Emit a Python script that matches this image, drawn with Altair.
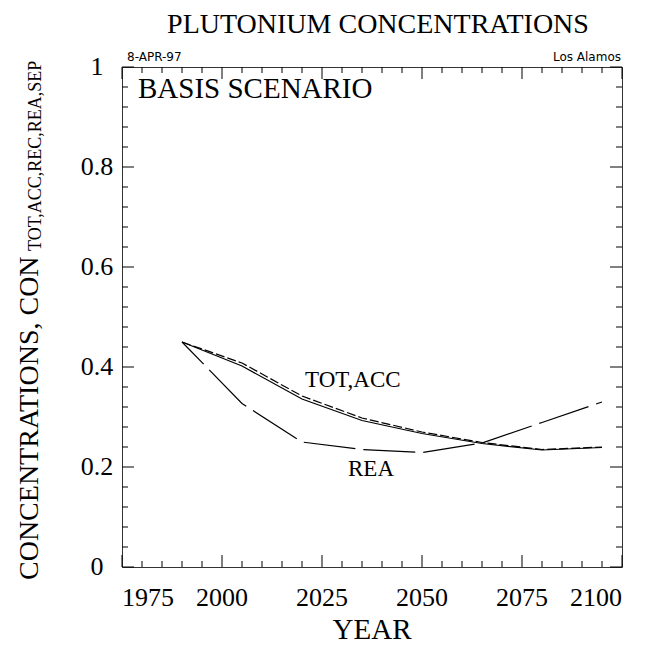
import altair as alt
import pandas as pd

# ---- data ----
years = [1990, 2005, 2020, 2035, 2050, 2065, 2080, 2095]
tot = [0.450, 0.402, 0.336, 0.293, 0.267, 0.247, 0.234, 0.239]
acc = [0.450, 0.408, 0.342, 0.298, 0.270, 0.249, 0.235, 0.240]
rea = [0.450, 0.327, 0.250, 0.235, 0.229, 0.248, 0.289, 0.330]

x_major = [1975, 2000, 2025, 2050, 2075, 2100]
x_labels = ["1975", "2000", "2025", "2050", "2075", "2100"]
x_minor = [1980, 1985, 1990, 1995, 2005, 2010, 2015, 2020, 2030, 2035, 2040,
           2045, 2055, 2060, 2065, 2070, 2080, 2085, 2090, 2095]
y_major = [0.0, 0.2, 0.4, 0.6, 0.8, 1.0]
y_labels = ["0", "0.2", "0.4", "0.6", "0.8", "1"]
y_minor = [0.04, 0.08, 0.12, 0.16, 0.24, 0.28, 0.32, 0.36, 0.44, 0.48, 0.52,
           0.56, 0.64, 0.68, 0.72, 0.76, 0.84, 0.88, 0.92, 0.96]

label_texts = ["TOT,ACC", "REA"]
label_years = [2020.75, 2031.5]
label_values = [0.36, 0.182]

W = 500
H = 500
SERIF = "Liberation Serif"
SANS = "DejaVu Sans"

xs = alt.Scale(domain=[1975, 2100], nice=False, zero=False)
ys = alt.Scale(domain=[0, 1], nice=False, zero=False)

df = pd.DataFrame({"year": years, "tot": tot, "acc": acc, "rea": rea})

tot_line = alt.Chart(df).mark_line(color="black", strokeWidth=1.2).encode(
    x=alt.X("year:Q", scale=xs, axis=None),
    y=alt.Y("tot:Q", scale=ys, axis=None),
)
acc_line = alt.Chart(df).mark_line(color="black", strokeWidth=1.2, strokeDash=[9, 3]).encode(
    x=alt.X("year:Q", scale=xs, axis=None),
    y=alt.Y("acc:Q", scale=ys, axis=None),
)
rea_line = alt.Chart(df).mark_line(color="black", strokeWidth=1.2, strokeDash=[52, 8],
                                   strokeDashOffset=21).encode(
    x=alt.X("year:Q", scale=xs, axis=None),
    y=alt.Y("rea:Q", scale=ys, axis=None),
)

# ---- inward ticks on all four sides ----
def xticks(vals, length):
    d = pd.DataFrame({"year": vals})
    bottom = alt.Chart(d).mark_rule(color="black", strokeWidth=1).encode(
        x=alt.X("year:Q", scale=xs, axis=None), y=alt.value(H), y2=alt.value(H - length))
    top = alt.Chart(d).mark_rule(color="black", strokeWidth=1).encode(
        x=alt.X("year:Q", scale=xs, axis=None), y=alt.value(0), y2=alt.value(length))
    return [bottom, top]

def yticks(vals, length):
    d = pd.DataFrame({"v": vals})
    left = alt.Chart(d).mark_rule(color="black", strokeWidth=1).encode(
        y=alt.Y("v:Q", scale=ys, axis=None), x=alt.value(0), x2=alt.value(length))
    right = alt.Chart(d).mark_rule(color="black", strokeWidth=1).encode(
        y=alt.Y("v:Q", scale=ys, axis=None), x=alt.value(W), x2=alt.value(W - length))
    return [left, right]

tick_layers = xticks(x_major, 12) + xticks(x_minor, 6) + yticks(y_major, 12) + yticks(y_minor, 6)

# ---- tick labels (through the scales) ----
xl = pd.DataFrame({"year": x_major, "t": x_labels})
def xlab(rows, align):
    return alt.Chart(xl.iloc[rows]).mark_text(
        align=align, baseline="alphabetic", font=SERIF, fontSize=26, color="black"
    ).encode(x=alt.X("year:Q", scale=xs, axis=None), y=alt.value(H + 39), text="t:N")

x_label_layers = [xlab([0], "left"), xlab([1, 2, 3, 4], "center"), xlab([5], "right")]

yl = pd.DataFrame({"v": y_major, "t": y_labels})
y_label_layer = alt.Chart(yl).mark_text(
    align="center", baseline="middle", font=SERIF, fontSize=26, color="black"
).encode(y=alt.Y("v:Q", scale=ys, axis=None), x=alt.value(-25), text="t:N")

# ---- series labels (data coordinates) ----
lab = pd.DataFrame({"t": label_texts, "year": label_years, "v": label_values})
series_labels = alt.Chart(lab).mark_text(align="left", baseline="alphabetic", font=SERIF,
                                         fontSize=23, color="black").encode(
    x=alt.X("year:Q", scale=xs, axis=None),
    y=alt.Y("v:Q", scale=ys, axis=None),
    text="t:N",
)

# ---- annotation texts ----
def note(s, x, y, size, font, align="left", angle=0):
    kw = dict(align=align, baseline="alphabetic", font=font, fontSize=size, color="black")
    if angle:
        kw["angle"] = angle
    return alt.Chart(pd.DataFrame({"t": [s]})).mark_text(**kw).encode(
        text="t:N", x=alt.value(x), y=alt.value(y))

notes = [
    note("PLUTONIUM CONCENTRATIONS", 256, -34, 28, SERIF, align="center"),
    note("8-APR-97", 5, -6, 12, SANS),
    note("Los Alamos", 499, -6, 12, SANS, align="right"),
    note("BASIS SCENARIO", 16, 31, 29, SERIF),
    note("YEAR", 250, 572, 29, SERIF, align="center"),
    note("CONCENTRATIONS, CON", -84, 513, 28, SERIF, angle=270),
    note("TOT,ACC,REC,REA,SEP", -81, 184, 18, SERIF, angle=270),
]

chart = alt.layer(
    tot_line, acc_line, rea_line, *tick_layers, *x_label_layers, y_label_layer,
    series_labels, *notes
).properties(
    width=W, height=H,
    autosize=alt.AutoSizeParams(type="none"),
    padding={"left": 114, "top": 59, "right": 21, "bottom": 78},
).configure_view(stroke="#333333", strokeWidth=1)

chart.save("out.html", embed_options={"renderer": "svg", "actions": False})
